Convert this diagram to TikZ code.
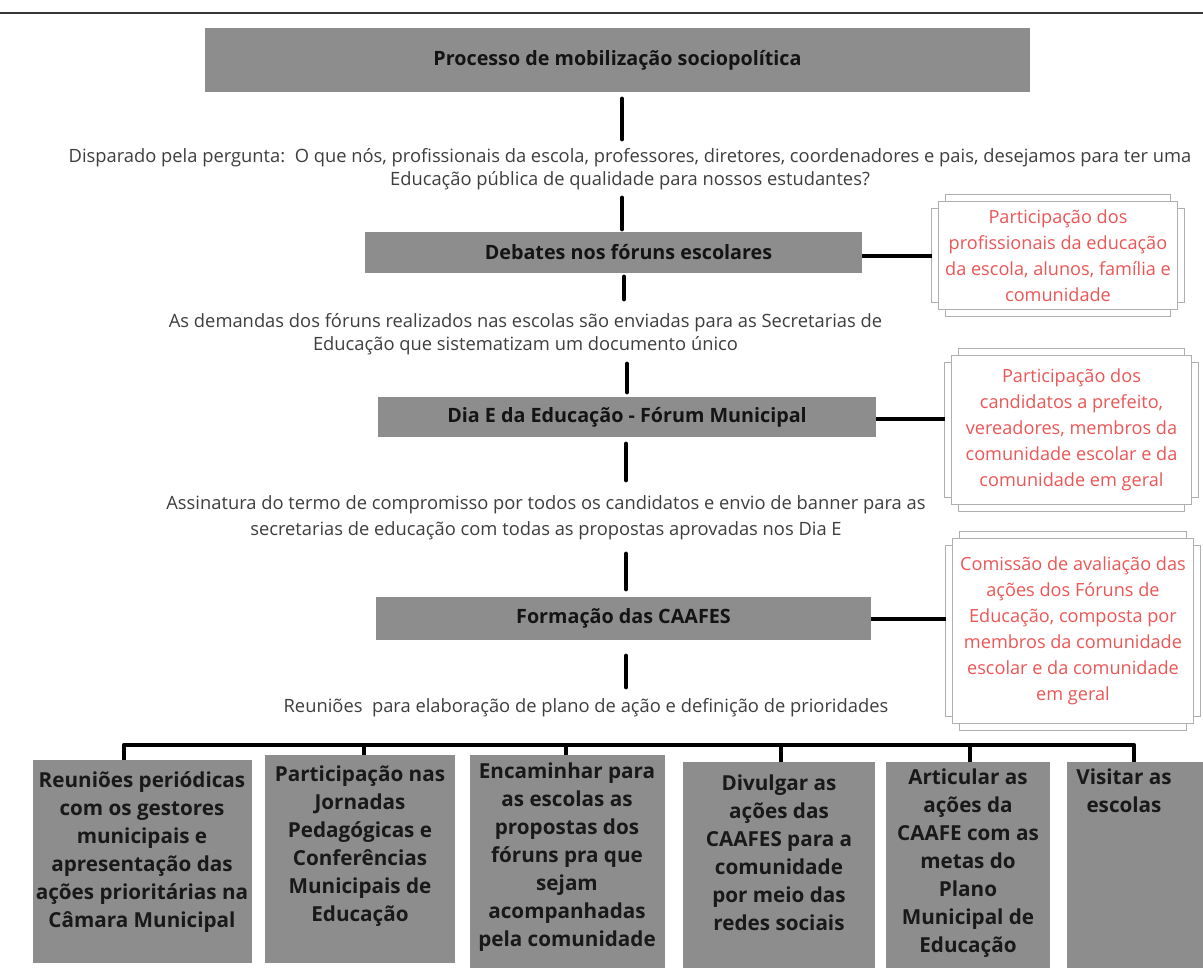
\documentclass[tikz,border=0pt]{standalone}
\usepackage{fontspec}
\setmainfont{Open Sans}
\usetikzlibrary{calc}
\definecolor{boxgray}{RGB}{141,141,141}
\definecolor{capgray}{RGB}{62,62,62}
\definecolor{redtxt}{RGB}{236,86,86}
\definecolor{framegray}{RGB}{175,175,175}
\definecolor{rulegray}{RGB}{55,55,55}
\newdimen\pxu \pxu=0.75pt
\newcommand{\dframe}[1]{%
 \draw[frameline] ($(#1.north west)+(7,7)$) rectangle ($(#1.south east)+(-7,-7)$);
 \draw[frameline] ($(#1.north west)+(14,7)$) -- ($(#1.north west)+(14,0)$) -- ($(#1.north east)+(-14,0)$) -- ($(#1.north east)+(-14,7)$);
 \draw[frameline] ($(#1.south west)+(14,-7)$) -- ($(#1.south west)+(14,0)$) -- ($(#1.south east)+(-14,0)$) -- ($(#1.south east)+(-14,-7)$);
 \draw[frameline] ($(#1.north west)+(7,14)$) -- ($(#1.north west)+(0,14)$) -- ($(#1.south west)+(0,-14)$) -- ($(#1.south west)+(7,-14)$);
 \draw[frameline] ($(#1.north east)+(-7,14)$) -- ($(#1.north east)+(0,14)$) -- ($(#1.south east)+(0,-14)$) -- ($(#1.south east)+(-7,-14)$);
}
\begin{document}
\begin{tikzpicture}[x=0.75pt,y=-0.75pt,
  mainbox/.style={fill=boxgray, inner sep=0, text=black!92,
    font=\bfseries\fontsize{14.8}{17}\selectfont},
  caption/.style={text=capgray, align=center, inner sep=0,
    font=\fontsize{13.75}{17.25}\selectfont},
  redbox/.style={text=redtxt, align=center, inner sep=0,
    font=\fontsize{13.6}{19.5}\selectfont},
  frameline/.style={draw=framegray, line width=1.1pt},
  botbox/.style={fill=boxgray, inner sep=0, anchor=north west},
  bottext/.style={text=black!90, align=center, inner sep=0, anchor=north,
    font=\bfseries\fontsize{15.5}{21}\selectfont},
  conn/.style={line width=3.6pt, line cap=round, black},
  busline/.style={line width=3.6pt, black},
]
\useasboundingbox[fill=white] (0,0) rectangle (1203,973);
\draw[rulegray, line width=1.5pt] (0,13) -- (1203,13);

% main column
\node[mainbox, minimum width=825\pxu, minimum height=64\pxu] (top) at (617.5,60) {Processo de mobilização sociopolítica};
\node[caption] (cap1) at (630,169.5) {Disparado pela pergunta:\ \ O que nós, profissionais da escola, professores, diretores, coordenadores e pais, desejamos para ter uma\\Educação pública de qualidade para nossos estudantes?};
\node[mainbox, minimum width=497\pxu, minimum height=41\pxu] (deb) at (613.5,252.5) {\hspace*{30\pxu}Debates nos fóruns escolares};
\node[caption] (cap2) at (525.5,334.5) {As demandas dos fóruns realizados nas escolas são enviadas para as Secretarias de\\Educação que sistematizam um documento único};
\node[mainbox, minimum width=498\pxu, minimum height=40\pxu] (dia) at (627,417) {Dia E da Educação - Fórum Municipal};
\node[caption, font=\fontsize{13.75}{19.5}\selectfont] (cap3) at (546,517.5) {Assinatura do termo de compromisso por todos os candidatos e envio de banner para as\\secretarias de educação com todas as propostas aprovadas nos Dia E};
\node[mainbox, minimum width=495\pxu, minimum height=43\pxu] (form) at (623.5,618.5) {Formação das CAAFES};
\node[caption] (cap4) at (586,708) {Reuniões\ \ para elaboração de plano de ação e definição de prioridades};

% vertical connector segments
\coordinate (v1a) at (622,99);  \coordinate (v1b) at (622,139);
\coordinate (v2a) at (622,198); \coordinate (v2b) at (622,229);
\coordinate (v3a) at (624,277); \coordinate (v3b) at (624,299);
\coordinate (v4a) at (627,364); \coordinate (v4b) at (627,392);
\coordinate (v5a) at (626,444); \coordinate (v5b) at (626,480);
\coordinate (v6a) at (626,554); \coordinate (v6b) at (626,589);
\coordinate (v7a) at (626,656); \coordinate (v7b) at (626,687);
\foreach \i in {1,...,7} \draw[conn] (v\i a) -- (v\i b);

% side frames
\node[redbox, minimum width=252\pxu, minimum height=121\pxu] (f1) at (1058,255.5) {Participação dos\\profissionais da educação\\da escola, alunos, família e\\comunidade};
\dframe{f1}
\node[redbox, minimum width=253\pxu, minimum height=162\pxu] (f2) at (1071.5,430) {Participação dos\\candidatos a prefeito,\\vereadores, membros da\\comunidade escolar e da\\comunidade em geral};
\dframe{f2}
\node[redbox, minimum width=254\pxu, minimum height=198\pxu] (f3) at (1073,631) {Comissão de avaliação das\\ações dos Fóruns de\\Educação, composta por\\membros da comunidade\\escolar e da comunidade\\em geral};
\dframe{f3}

\draw[conn, line cap=butt] (deb.east |- 0,256) -- (f1.west |- 0,256);
\draw[conn, line cap=butt] (dia.east |- 0,419) -- (f2.west |- 0,419);
\draw[conn, line cap=butt] (form.east |- 0,619) -- (f3.west |- 0,619);

% bottom boxes
\node[botbox, minimum width=219\pxu, minimum height=203\pxu] (b1) at (33,760) {};
\node[botbox, minimum width=190\pxu, minimum height=208\pxu] (b2) at (265,755) {};
\node[botbox, minimum width=195\pxu, minimum height=213\pxu] (b3) at (470,755) {};
\node[botbox, minimum width=192\pxu, minimum height=206\pxu] (b4) at (683,762) {};
\node[botbox, minimum width=164\pxu, minimum height=206\pxu] (b5) at (886,762) {};
\node[botbox, minimum width=136\pxu, minimum height=206\pxu] (b6) at (1067,762) {};

\node[bottext] (t1) at (142,771) {Reuniões periódicas\\com os gestores\\municipais e\\apresentação das\\ações prioritárias na\\Câmara Municipal};
\node[bottext] (t2) at (360,766) {Participação nas\\Jornadas\\Pedagógicas e\\Conferências\\Municipais de\\Educação};
\node[bottext] (t3) at (567,763) {Encaminhar para\\as escolas as\\propostas dos\\fóruns pra que\\sejam\\acompanhadas\\pela comunidade};
\node[bottext] (t4) at (779,775) {Divulgar as\\ações das\\CAAFES para a\\comunidade\\por meio das\\redes sociais};
\node[bottext] (t5) at (968,769) {Articular as\\ações da\\CAAFE com as\\metas do\\Plano\\Municipal de\\Educação};
\node[bottext] (t6) at (1124,769) {Visitar as\\escolas};

% bus
\coordinate (busl) at (124,745);
\coordinate (busr) at (1134,745);
\draw[busline, line join=round] (b1.north -| busl) -- (busl) -- (busr) -- (b6.north -| busr);
\draw[busline] (364,745) -- (b2.north -| 364,0);
\draw[busline] (566,745) -- (b3.north -| 566,0);
\draw[busline] (781,745) -- (b4.north -| 781,0);
\draw[busline] (970,745) -- (b5.north -| 970,0);
\end{tikzpicture}
\end{document}
